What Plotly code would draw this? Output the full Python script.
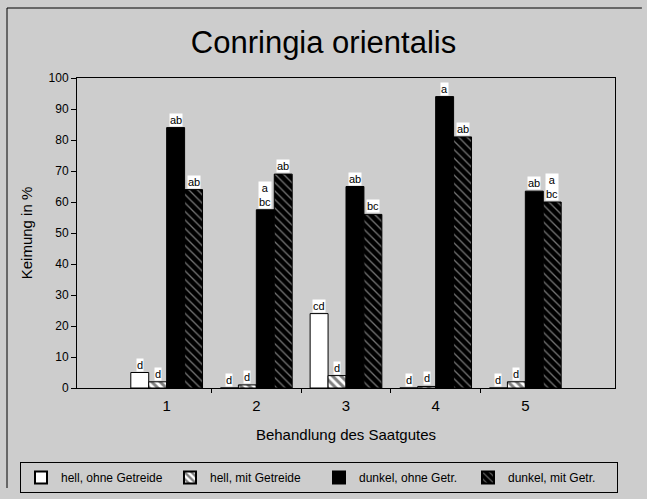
import plotly.graph_objects as go

# Saatgut-Behandlungen (x-Achse)
behandlung = [1, 2, 3, 4, 5]
tick_labels = ["1", "2", "3", "4", "5"]

# Keimung in % je Variante
hell_ohne = [5, 0, 24, 0, 0]
hell_mit = [2, 1, 4, 0.5, 2]
dunkel_ohne = [84, 57.5, 65, 94, 63.5]
dunkel_mit = [64, 69, 56, 81, 60]

# Signifikanzbuchstaben
sig_hell_ohne = ["d", "d", "cd", "d", "d"]
sig_hell_mit = ["d", "d", "d", "d", "d"]
sig_dunkel_ohne = ["ab", "a<br>bc", "ab", "a", "ab"]
sig_dunkel_mit = ["ab", "ab", "bc", "ab", "a<br>bc"]

series = [
    ("hell, ohne Getreide", hell_ohne, sig_hell_ohne,
     dict(color="white", line=dict(color="black", width=1))),
    ("hell, mit Getreide", hell_mit, sig_hell_mit,
     dict(color="white", line=dict(color="black", width=1),
          pattern=dict(shape="\\", fgcolor="black", bgcolor="white",
                       size=6, solidity=0.5, fillmode="overlay"))),
    ("dunkel, ohne Getr.", dunkel_ohne, sig_dunkel_ohne,
     dict(color="black", line=dict(color="black", width=1))),
    ("dunkel, mit Getr.", dunkel_mit, sig_dunkel_mit,
     dict(color="black", line=dict(color="black", width=1),
          pattern=dict(shape="\\", fgcolor="#e8e8e8", bgcolor="black",
                       size=6, solidity=0.22, fillmode="overlay"))),
]

FONT = "Liberation Sans, Arial, sans-serif"
BG = "#cdcdcd"
bargap = 0.2
n = len(series)
bar_w = (1 - bargap) / n

# Plot area in pixels (for placing paper-referenced decorations)
PW, PH = 538, 310

fig = go.Figure()
annotations = []
for i, (name, vals, sig, marker) in enumerate(series):
    fig.add_trace(go.Bar(x=behandlung, y=vals, name=name, marker=marker))
    offset = -(1 - bargap) / 2 + bar_w * (i + 0.5)
    for xv, yv, s in zip(behandlung, vals, sig):
        annotations.append(dict(
            x=xv + offset, y=yv, xref="x", yref="y", text=s,
            showarrow=False, yanchor="bottom", yshift=1,
            font=dict(family=FONT, size=11, color="black"),
            bgcolor="white", borderpad=0,
        ))

fig.update_layout(
    width=647, height=499,
    margin=dict(l=77, r=32, t=78, b=111, autoexpand=False),
    paper_bgcolor=BG, plot_bgcolor=BG,
    barmode="group", bargap=bargap, bargroupgap=0,
    font=dict(family=FONT, color="black"),
    title=dict(text="Conringia orientalis", x=0.5, xanchor="center",
               y=1 - 42 / 499, yanchor="middle",
               font=dict(family=FONT, size=31, color="black")),
    xaxis=dict(
        range=[0, 6], tickmode="array", tickvals=behandlung, ticktext=tick_labels,
        ticks="", showgrid=False, zeroline=False,
        showline=True, linecolor="black", linewidth=1, mirror=True,
        tickfont=dict(size=15), ticklabelstandoff=4,
        minor=dict(tickmode="array", tickvals=[1.5, 2.5, 3.5, 4.5],
                   ticks="outside", ticklen=4, tickcolor="black"),
        title=dict(text="Behandlung des Saatgutes", font=dict(size=15), standoff=16),
    ),
    yaxis=dict(
        range=[0, 100], tickmode="linear", tick0=0, dtick=10,
        ticks="outside", ticklen=5, tickcolor="black",
        showgrid=False, zeroline=False,
        showline=True, linecolor="black", linewidth=1, mirror=True,
        tickfont=dict(size=12),
        title=dict(text="Keimung in %", font=dict(size=15), standoff=12),
    ),
    legend=dict(
        orientation="h", xref="paper", yref="paper",
        x=-57 / PW, xanchor="left", y=-74 / PH, yanchor="top",
        bgcolor="rgba(0,0,0,0)", bordercolor="black", borderwidth=1,
        font=dict(size=12), entrywidth=104, entrywidthmode="pixels",
        traceorder="normal", itemsizing="constant",
    ),
    annotations=annotations,
    shapes=[
        dict(type="line", xref="paper", yref="paper",
             x0=-70 / PW, x1=1.05, y0=1 + 70 / PH, y1=1 + 70 / PH,
             line=dict(color="black", width=1)),
        dict(type="line", xref="paper", yref="paper",
             x0=-70 / PW, x1=-70 / PW, y0=1 + 70 / PH, y1=-100 / PH,
             line=dict(color="black", width=1)),
    ],
)

fig.write_html("out.html")
